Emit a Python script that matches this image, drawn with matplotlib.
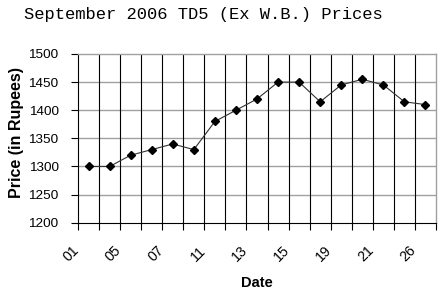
import matplotlib
matplotlib.use("Agg")
import matplotlib.pyplot as plt
from matplotlib.ticker import FixedLocator, MultipleLocator, NullFormatter
import matplotlib.transforms as mtransforms

dates = ["01", "04", "05", "06", "07", "08", "11", "12", "13",
         "14", "15", "18", "19", "20", "21", "22", "26"]
prices = [1300, 1300, 1320, 1330, 1340, 1330, 1380, 1400, 1420,
          1450, 1450, 1415, 1445, 1455, 1445, 1415, 1410]
title = "September 2006 TD5 (Ex W.B.) Prices"
ylabel = "Price (in Rupees)"
xlabel = "Date"

W, H = 442, 294
fig = plt.figure(figsize=(W / 100, H / 100), dpi=100)
fig.patch.set_facecolor("white")
L, R, T, B = 78, 436, 54, 222.7
ax = fig.add_axes([L / W, 1 - B / H, (R - L) / W, (B - T) / H])

x = list(range(len(dates)))
ax.plot(x, prices, color="#333333", lw=0.8, marker="D", markersize=4.5,
        markerfacecolor="black", markeredgecolor="black", zorder=3)

ax.set_xlim(-0.5, len(dates) - 0.5)
ax.set_ylim(1200, 1500)
ax.yaxis.set_major_locator(MultipleLocator(50))

# horizontal grey gridlines
for v in range(1250, 1500, 50):
    ax.axhline(v, color="#a0a0a0", lw=1.0, zorder=1)
# vertical black gridlines at category boundaries
bounds = [i - 0.5 for i in range(len(dates) + 1)]
for b in bounds[1:-1]:
    ax.axvline(b, color="black", lw=0.8, zorder=1)

ax.xaxis.set_major_locator(FixedLocator(bounds))
ax.xaxis.set_major_formatter(NullFormatter())
ax.tick_params(axis="x", which="major", length=5, width=0.8, color="black")
ax.tick_params(axis="y", length=5, width=0.8, color="black", pad=9,
               labelsize=9.7)
for lbl in ax.get_yticklabels():
    lbl.set_family("Liberation Sans")

# category labels (every other category), rotated like Excel
trans = ax.get_xaxis_transform() + mtransforms.ScaledTranslation(
    -11.5 / 100, -25.5 / 100, fig.dpi_scale_trans)
for i in x[::2]:
    ax.text(i, 0, dates[i], transform=trans, rotation=45,
            rotation_mode="anchor", ha="right", va="center",
            fontsize=10.2, family="Liberation Sans", clip_on=False)

for s in ["top", "right"]:
    ax.spines[s].set_color("#a0a0a0")
    ax.spines[s].set_linewidth(1.0)
for s in ["left", "bottom"]:
    ax.spines[s].set_color("black")
    ax.spines[s].set_linewidth(0.8)

fig.text(17 / W, 1 - 132 / H, ylabel, rotation=90, ha="center", va="center",
         fontsize=11.5, fontweight="bold", family="Liberation Sans")
fig.text(257 / W, 1 - 283 / H, xlabel, ha="center", va="center",
         fontsize=10.5, fontweight="bold", family="Liberation Sans")
fig.text(24 / W, 1 - 18.5 / H, title, ha="left", va="baseline",
         fontsize=12.3, family="Liberation Mono")

fig.savefig("out.png", dpi=100, facecolor="white")
